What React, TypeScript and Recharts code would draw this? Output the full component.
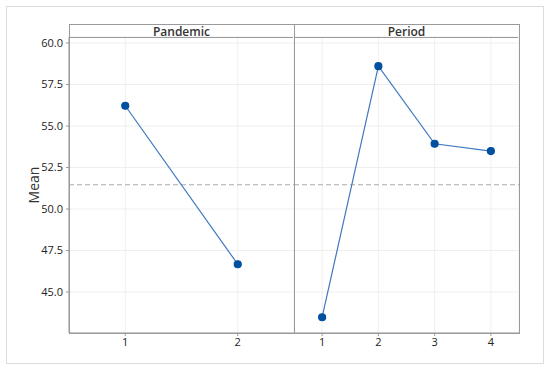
import { LineChart, Line, XAxis, YAxis, CartesianGrid, ReferenceLine } from 'recharts';

const pandemicLevels = [1, 2];
const pandemicMeans = [56.22, 46.67];
const periodLevels = [1, 2, 3, 4];
const periodMeans = [43.48, 58.6, 53.93, 53.49];
const yTicks = [45, 47.5, 50, 52.5, 55, 57.5, 60];
const grandMean = 51.46;

const pandemicData = pandemicLevels.map((level, i) => ({ level, mean: pandemicMeans[i] }));
const periodData = periodLevels.map((level, i) => ({ level, mean: periodMeans[i] }));

const yDomain = [42.53, 60.36];
const frame = '#9a9a9a';
const tickStyle = { fill: '#222', fontSize: 11, fontFamily: 'Open Sans, sans-serif' };

function Header({ title, left, width }: { title: string; left: number; width: number }) {
  return (
    <div
      style={{
        position: 'absolute', left, top: 24, width: width - 1, height: 12,
        borderTop: `1px solid ${frame}`, borderBottom: `1px solid ${frame}`,
        textAlign: 'center', fontSize: 12, lineHeight: '13px', color: '#333',
        fontWeight: 600, fontFamily: 'Open Sans, sans-serif',
      }}
    >
      {title}
    </div>
  );
}

export default function App() {
  return (
    <div style={{ position: 'absolute', left: 0, top: 0, width: 550, height: 371, background: '#fff' }}>
      <div style={{ position: 'absolute', left: 6, top: 6, width: 536, height: 356, border: '1px solid #dcdcdc' }} />
      <div
        style={{
          position: 'absolute', left: 33, top: 185, transform: 'translate(-50%, -50%) rotate(-90deg)',
          fontSize: 14, color: '#333', fontWeight: 500, fontFamily: 'Open Sans, sans-serif',
        }}
      >
        Mean
      </div>
      <div style={{ position: 'absolute', left: 0, top: 0 }}>
        <LineChart width={295} height={371} data={pandemicData} margin={{ top: 37, right: 1, bottom: 8, left: 0 }}>
          <CartesianGrid stroke="#efefef" />
          <XAxis
            dataKey="level" type="number" domain={[0.5, 2.5]} ticks={pandemicLevels}
            height={30} tick={tickStyle} tickSize={3} tickLine={{ stroke: frame }} axisLine={{ stroke: frame }}
          />
          <YAxis
            type="number" domain={yDomain} ticks={yTicks} allowDataOverflow width={69}
            tick={tickStyle} tickSize={3} tickMargin={3} tickLine={{ stroke: frame }} axisLine={{ stroke: frame }}
            tickFormatter={(v: number) => v.toFixed(1)}
          />
          <ReferenceLine y={grandMean} stroke="#aaa" strokeDasharray="5 3" />
          <Line
            dataKey="mean" stroke="#3e78bf" strokeWidth={1.2} isAnimationActive={false}
            dot={{ r: 3.5, fill: '#0050a0', stroke: '#0050a0' }}
          />
        </LineChart>
      </div>
      <div style={{ position: 'absolute', left: 294, top: 0 }}>
        <LineChart width={226} height={371} data={periodData} margin={{ top: 37, right: 1, bottom: 8, left: 0 }}>
          <CartesianGrid stroke="#efefef" />
          <XAxis
            dataKey="level" type="number" domain={[0.5, 4.5]} ticks={periodLevels}
            height={30} tick={tickStyle} tickSize={3} tickLine={{ stroke: frame }} axisLine={{ stroke: frame }}
          />
          <YAxis type="number" domain={yDomain} ticks={yTicks} allowDataOverflow width={0} hide />
          <ReferenceLine y={grandMean} stroke="#aaa" strokeDasharray="5 3" />
          <Line
            dataKey="mean" stroke="#3e78bf" strokeWidth={1.2} isAnimationActive={false}
            dot={{ r: 3.5, fill: '#0050a0', stroke: '#0050a0' }}
          />
        </LineChart>
      </div>
      <div style={{ position: 'absolute', left: 69, top: 24, width: 449, height: 308, border: `1px solid ${frame}` }} />
      <div style={{ position: 'absolute', left: 294, top: 24, width: 0, height: 309, borderLeft: `1px solid ${frame}` }} />
      <Header title="Pandemic" left={70} width={224} />
      <Header title="Period" left={295} width={224} />
    </div>
  );
}
